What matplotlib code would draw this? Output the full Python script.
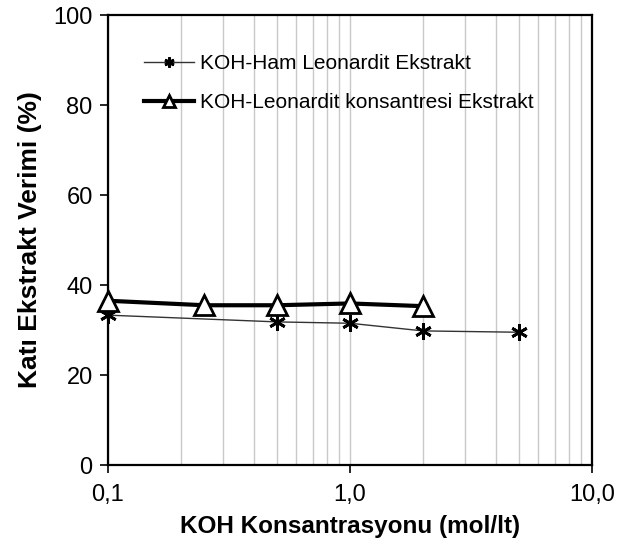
import matplotlib
matplotlib.use("Agg")
import matplotlib.pyplot as plt
from matplotlib.ticker import LogLocator, NullFormatter

plt.rcParams['font.family'] = ['Liberation Sans', 'DejaVu Sans']

x_ham = [0.1, 0.5, 1.0, 2.0, 5.0]
y_ham = [33.3, 31.8, 31.5, 29.8, 29.5]
x_kons = [0.1, 0.25, 0.5, 1.0, 2.0]
y_kons = [36.5, 35.5, 35.5, 35.9, 35.3]
label_ham = "KOH-Ham Leonardit Ekstrakt"
label_kons = "KOH-Leonardit konsantresi Ekstrakt"
xticks = [0.1, 1.0, 10.0]
xtick_labels = ["0,1", "1,0", "10,0"]
yticks = [0, 20, 40, 60, 80, 100]

fig = plt.figure(figsize=(6.19, 5.51), dpi=100)
ax = fig.add_axes([108/619, 1-465/551, (592-108)/619, (465-15)/551])
ax.set_xscale('log')
ax.set_xlim(0.1, 10)
ax.set_ylim(0, 100)

ax.xaxis.set_minor_locator(LogLocator(base=10, subs=range(2, 10)))
ax.xaxis.set_minor_formatter(NullFormatter())
ax.grid(True, which='both', axis='x', color='#c8c8c8', linewidth=1.0)
ax.set_axisbelow(True)
ax.tick_params(axis='x', which='minor', length=0)

ax.plot(x_ham, y_ham, color='#333333', linewidth=1.0, marker=(6, 2, 0),
        markersize=12, markeredgewidth=2.0, markeredgecolor='black', label=label_ham,
        zorder=3, clip_on=False)
ax.plot(x_kons, y_kons, color='black', linewidth=3.0, marker='^', markersize=15,
        markerfacecolor='white', markeredgecolor='black', markeredgewidth=2.0,
        label=label_kons, zorder=4, clip_on=False)

ax.set_xticks(xticks)
ax.set_xticklabels(xtick_labels)
ax.set_yticks(yticks)
ax.tick_params(axis='both', which='major', direction='out', length=6, width=1.2,
               labelsize=17, colors='black')
ax.tick_params(axis='x', pad=8)
ax.tick_params(axis='y', pad=5)
for s in ax.spines.values():
    s.set_linewidth(1.6)
    s.set_color('black')

ax.set_xlabel("KOH Konsantrasyonu (mol/lt)", fontsize=17.5, fontweight='bold', labelpad=6)
ax.set_ylabel("Katı Ekstrakt Verimi (%)", fontsize=19, fontweight='bold', labelpad=8)

leg = ax.legend(loc='upper left', bbox_to_anchor=(0.035, 0.955), frameon=False,
                fontsize=15, labelspacing=0.95, handlelength=2.4, handletextpad=0.3,
                markerscale=0.6)
fig.savefig("out.png", dpi=100)
